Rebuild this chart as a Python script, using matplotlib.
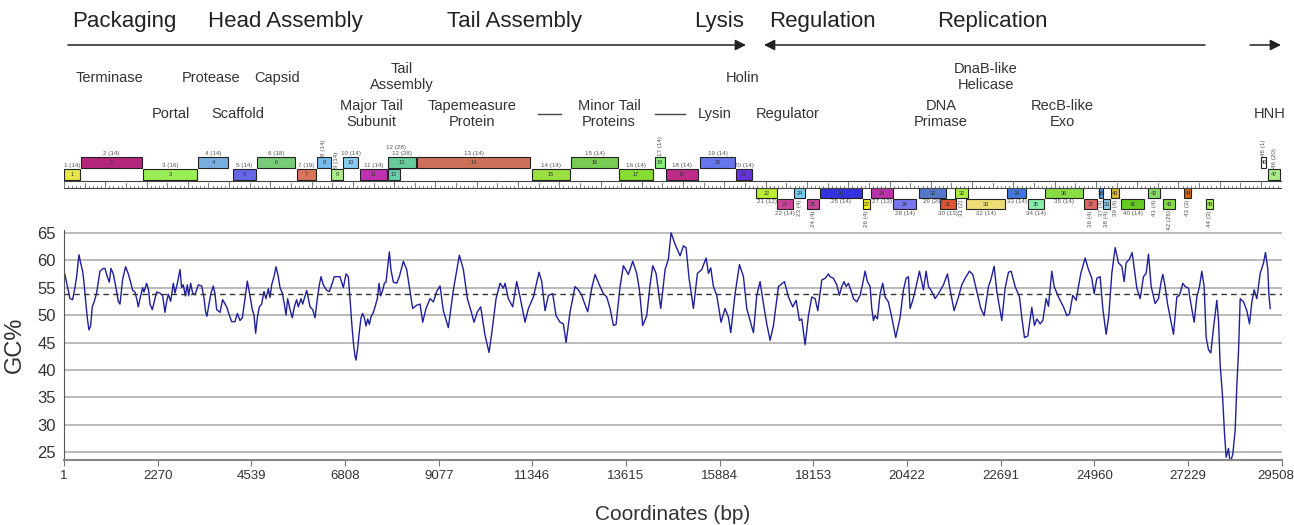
import matplotlib
matplotlib.use('Agg')
import matplotlib.pyplot as plt
import matplotlib.transforms as mtransforms
from matplotlib.patches import Rectangle

plt.rcParams['font.family'] = ['Liberation Sans', 'DejaVu Sans']

# GC% in a sliding window: window centre (bp) and GC%
gc_pos = [20, 145, 210, 266, 307, 363, 404, 452, 484, 533, 573, 606, 646, 686, 735, 791,
          832, 872, 953, 993, 1050, 1098, 1139, 1195, 1260, 1316, 1357, 1421, 1494, 1559,
          1615, 1664, 1720, 1761, 1801, 1857, 1906, 1938, 2003, 2051, 2084, 2140, 2189,
          2245, 2326, 2391, 2447, 2488, 2528, 2584, 2649, 2689, 2754, 2811, 2851, 2891,
          2940, 2988, 3021, 3069, 3118, 3174, 3255, 3336, 3392, 3433, 3465, 3513, 3562,
          3618, 3659, 3699, 3780, 3844, 3941, 4006, 4063, 4143, 4200, 4264, 4321, 4386,
          4442, 4507, 4563, 4604, 4644, 4684, 4733, 4789, 4846, 4894, 4951, 4991, 5032,
          5088, 5137, 5193, 5234, 5290, 5339, 5379, 5419, 5476, 5532, 5581, 5637, 5678,
          5742, 5783, 5880, 5961, 6025, 6082, 6138, 6187, 6227, 6284, 6364, 6429, 6486,
          6550, 6687, 6768, 6833, 6889, 6930, 6970, 7011, 7051, 7075, 7116, 7156, 7196,
          7237, 7277, 7318, 7358, 7399, 7439, 7495, 7536, 7592, 7633, 7673, 7721, 7762,
          7802, 7883, 7923, 7980,
          8061, 8125, 8222, 8303, 8384, 8448, 8545, 8626, 8691, 8771, 8868, 8949, 9030,
          9111, 9191, 9312, 9434, 9579, 9676, 9773, 9878, 9934, 10015, 10096, 10201,
          10298, 10362, 10468, 10564, 10645, 10686, 10766, 10871, 10968, 11049, 11170,
          11251, 11372, 11509, 11574, 11655, 11736, 11840, 11921, 12018, 12099, 12164,
          12261, 12382, 12462, 12543, 12584, 12689, 12786, 12866, 12971, 13068, 13149,
          13230, 13311, 13375, 13472, 13553, 13674, 13779, 13876, 13941, 14021, 14118,
          14199, 14264, 14344, 14458, 14563, 14643, 14708, 14805, 14926, 15007, 15071,
          15144, 15249, 15346, 15451, 15556, 15613, 15669, 15734, 15814, 15919, 16016,
          16097, 16154, 16259, 16364, 16461, 16541, 16622, 16703, 16784, 16864, 16945,
          17026, 17107, 17188, 17309, 17454, 17551, 17656, 17737, 17818, 17874, 17955,
          18036, 18116, 18197, 18262, 18359, 18440, 18520,
          18560, 18641, 18722, 18786, 18843, 18899, 18948, 19004, 19061, 19125, 19206,
          19287, 19343, 19408, 19465, 19529, 19570, 19610, 19650, 19707, 19772, 19836,
          19893, 19973, 20054, 20151, 20256, 20337, 20402, 20458, 20498, 20563, 20644,
          20725, 20822, 20886, 20943, 21023, 21104, 21185, 21306, 21403, 21468, 21565,
          21670, 21750, 21831, 21936, 22017, 22114, 22211, 22292, 22397, 22453, 22534,
          22599, 22720, 22800, 22881, 22946, 23043, 23148, 23204, 23269, 23350, 23447,
          23511, 23568, 23649, 23713, 23794, 23850, 23931, 23988, 24093, 24214, 24295,
          24359, 24440, 24521, 24577, 24634, 24739, 24820, 24900, 24957, 25022, 25102,
          25167, 25248, 25312, 25385, 25466, 25547, 25627, 25684, 25732, 25813, 25878,
          25926, 25991, 26072, 26152, 26217, 26274, 26338, 26435, 26516, 26580, 26621,
          26677, 26734, 26815, 26879, 26960, 27025, 27105, 27162, 27243, 27300, 27380,
          27445, 27509, 27566, 27622, 27671, 27727, 27784, 27849, 27929, 27970, 28010,
          28067, 28115, 28155, 28212, 28252, 28317, 28374, 28414, 28455, 28495, 28576,
          28656, 28721, 28777, 28834, 28899, 28979, 29060, 29108, 29165, 29189, 29222]
gc_val = [57.5, 53, 52.8, 55, 57, 61, 59.5, 58, 56, 52, 49, 47.3, 48, 51.5, 52.5, 54,
          56, 58, 58.5, 58.5, 57, 56, 58.5, 57.5, 55, 52.5, 52, 56.5, 58.8, 57.5,
          56, 54.5, 54.2, 53, 51.5, 53.5, 55, 54.2, 55.8, 54.5, 52, 51, 52.5,
          54.2, 54, 53.5, 50.5, 52.5, 53.8, 52.5, 55.8, 54, 56, 58.3, 55, 55.5,
          53.5, 55.5, 53.5, 55.8, 54, 53.7, 55.5, 55.3, 53.2, 50.5, 49.8, 52, 54,
          55.3, 53.8, 51, 50.5, 52.8, 51.5, 50, 48.8, 48.8, 50.3, 49, 49.5, 53,
          56.2, 53.5, 51, 50, 46.7, 49.5, 51.5, 52, 54.3, 53, 54.8, 53.2, 55.5,
          57, 58.8, 57, 55, 54, 52, 50, 53, 51, 49.5, 51.5, 52.8, 51.5,
          53, 52, 54.5, 51.5, 51, 49.5, 53, 55.5, 57, 55.5, 54.5, 54.3, 55.5,
          57, 57, 55, 57.5, 57, 53, 48.7, 45, 42.5, 41.8, 44, 47, 49.5,
          50.3, 49.5, 48, 49.3, 48.3, 49.7, 50.5, 51.5, 53, 55.8, 53.5, 54.5, 55.8,
          56, 61.5, 58.2, 56,
          55.8, 57, 59.8, 58.3, 54.3, 51.2, 51.8, 52, 48.7, 51.2, 53, 52.4, 54.3,
          55.3, 50.8, 47.7, 54.6, 60.9, 58.3, 53, 50.3, 48.7, 50.6, 51.5, 46.3,
          43.2, 46.6, 53, 55.8, 54.9, 55.8, 53, 51.5, 56.1, 53.3, 48.7,
          51.2, 53.3, 57.8, 56.1, 50.8, 53.6, 53.9, 49.9, 48.7, 48.4, 45,
          50.6, 55.2, 54.6, 53.6, 52.7, 50.6, 54.9, 57.4, 55.5, 53.9, 53.3,
          51.2, 48.1, 48.3, 55.2, 59, 57.4, 59.8, 57.6, 54.6, 48.1, 49.9,
          55.5, 59, 57.6, 51.2, 58.3, 60.2, 65, 62.9, 60.8, 62.6, 62.3,
          56.7, 51.2, 57.6, 58.3, 60.4, 57.6, 58.6, 55.2, 53.6, 48.7, 51.2,
          49.6, 46.8, 53.9, 59.2, 57, 51.2, 49, 46.8, 53.6, 56.1, 52.1,
          48.4, 45.4, 48.1, 55.2, 56.1, 53.3, 51.5, 52.7, 49, 49.3, 44.6,
          49.9, 53.3, 53, 50.8, 56.4, 56.7, 57.5,
          57, 56.7, 55.5, 53.6, 55.2, 56.1, 55.2, 55.8, 54.6, 53, 52.4,
          53.6, 55.5, 58, 56.1, 55.2, 51.2, 49, 49.9, 49.3, 53.9, 55.8,
          53.3, 52.4, 49.6, 45.9, 49.6, 54.6, 56.7, 57, 51.2, 52.7, 55.2,
          58, 54.6, 58, 55.2, 54.3, 53, 53.9, 55.5, 57.5, 54.6, 50.8,
          53.3, 55.5, 56.7, 58, 57.4, 54.3, 51.2, 49.9, 55.2, 56.4, 58.9,
          54.3, 49, 54.9, 57.8, 58, 55.2, 53.3, 49.6, 45.9, 46.2, 51.4,
          48.1, 49.3, 48.4, 49, 53, 51.6, 58, 55.2, 53.3, 51.5, 49.9,
          50.2, 53.6, 52.7, 55.2, 57.6, 60.4, 58.3, 56.7, 53.9, 56.7, 57,
          51.2, 46.5, 49.9, 57.6, 62.3, 59.5, 58.9, 56.1, 59.5, 60.2, 61.4,
          58.6, 54.9, 53, 57, 57.6, 61.1, 55.2, 52.1, 53, 56.1, 57.4,
          55.2, 52.1, 49, 46.5, 53.3, 53.6, 55.8, 55.2, 54.9, 52.1, 48.7,
          53.3, 55.2, 58, 55.2, 45.9, 43.7, 43.1, 47.7, 52.7, 49, 40.9,
          35.3, 28.5, 24.1, 25.7, 23, 24.7, 29.1, 37.2, 43.4, 53, 52.4,
          50.8, 48.4, 52.4, 54.6, 53, 57.6, 59.5, 61.4, 58.3, 53.9, 51.2]
gc_mean = 53.8

genome_len = 29508
x_ticks = [1, 2270, 4539, 6808, 9077, 11346, 13615, 15884, 18153, 20422, 22691, 24960, 27229, 29508]

# genes: start, end (bp), track (F2/F1 forward, R1/R2 reverse), tag, colour
gene_start = [1, 412, 1914, 3247, 4095, 4676, 5646, 6130, 6469, 6760, 7172, 7851, 7851,
              8553, 11340, 12285, 13448, 14320, 14587, 15410, 16283, 16767, 17276, 17688,
              18003, 18318, 19360, 19554, 20087, 20717, 21226, 21589, 21856, 22849, 23358,
              23770, 24715, 25078, 25175, 25369, 25611, 26265, 26629, 27138, 27671, 29003, 29172]
gene_end = [390, 1890, 3222, 3974, 4652, 5597, 6106, 6469, 6760, 7124, 7826, 8141, 8529,
            11291, 12260, 13423, 14271, 14562, 15362, 16258, 16670, 17276, 17664, 17954,
            18294, 19336, 19530, 20087, 20644, 21371, 21613, 21904, 22800, 23309, 23745,
            24690, 25030, 25175, 25345, 25563, 26168, 26556, 26920, 27307, 27841, 29124, 29463]
gene_track = ['F1', 'F2', 'F1', 'F2', 'F1', 'F2', 'F1', 'F2', 'F1', 'F2', 'F1', 'F1', 'F2',
              'F2', 'F1', 'F2', 'F1', 'F2', 'F1', 'F2', 'F1', 'R1', 'R2', 'R1',
              'R2', 'R1', 'R2', 'R1', 'R2', 'R1', 'R2', 'R1', 'R2', 'R1', 'R2',
              'R1', 'R2', 'R1', 'R2', 'R1', 'R2', 'R1', 'R2', 'R1', 'R2', 'F2', 'F1']
gene_tag = ['1 (14)', '2 (14)', '3 (16)', '4 (14)', '5 (14)', '6 (18)', '7 (19)', '8 (14)',
            '9 (14)', '10 (14)', '11 (14)', '12 (28)', '12 (28)', '13 (14)', '14 (14)',
            '15 (14)', '16 (14)', '17 (14)', '18 (14)', '19 (14)', '20 (14)', '21 (12)',
            '22 (14)', '23 (4)', '24 (4)', '25 (14)', '26 (4)', '27 (13)', '28 (14)',
            '29 (29)', '30 (13)', '31 (2)', '32 (14)', '33 (14)', '34 (14)', '35 (14)',
            '36 (4)', '37 (4)', '38 (4)', '39 (4)', '40 (14)', '41 (4)', '42 (26)',
            '43 (3)', '44 (3)', '45 (1)', '46 (20)']
gene_color = ['#e6e64a', '#b5267d', '#99ee55', '#7aaee0', '#6666e8', '#77cc77', '#d9735a',
              '#77bbee', '#aaee88', '#88ccee', '#c030b0', '#66ccaa', '#66cc99', '#cc7058',
              '#99e040', '#77cc55', '#88dd33', '#88ee77', '#c02a88', '#6677ee', '#6633dd',
              '#bbee33', '#cc4499', '#77ccee', '#cc4499', '#3333dd', '#eeee22', '#bb33aa',
              '#7777ee', '#5577cc', '#dd5533', '#aaee44', '#eedd77', '#4477dd', '#88eeaa',
              '#88dd44', '#dd6666', '#4499ee', '#88ccee', '#ddbb33', '#66cc22', '#88dd66',
              '#88dd44', '#cc6611', '#aaee55', '#ffffff', '#aaee88']
vertical_tags = {8, 9, 18, 24, 25, 27, 32, 37, 38, 39, 40, 42, 43, 44, 45, 46, 47}

fig = plt.figure(figsize=(12.94, 5.25), dpi=100)
W, H = 1294, 525
x0, x1 = 64, 1282

# ---- GC% plot ----
ax = fig.add_axes([x0 / W, 65 / H, (x1 - x0) / W, 230 / H])
ax.plot(gc_pos, gc_val, color='#1f1f9a', lw=1.0)
ax.axhline(gc_mean, color='#333333', lw=1.0, ls=(0, (4, 3)))
ax.set_xlim(1, genome_len)
ax.set_ylim(23.6, 65.5)
ax.set_yticks(range(25, 66, 5))
ax.yaxis.grid(True, color='#b5b5b5', lw=1.3)
ax.set_axisbelow(True)
ax.set_xticks(x_ticks)
ax.set_xticklabels([str(t) for t in x_ticks], fontsize=9.5, color='#333333')
ax.tick_params(axis='x', length=4, color='#777777', pad=3)
ax.tick_params(axis='y', length=0, labelsize=12, labelcolor='#333333', pad=6)
last = ax.get_xticklabels()[-1]
last.set_transform(last.get_transform() +
                   mtransforms.ScaledTranslation(-6 / 100, 0, fig.dpi_scale_trans))
for s in ['top', 'right']:
    ax.spines[s].set_visible(False)
ax.spines['left'].set_color('#555555')
ax.spines['bottom'].set_color('#888888')
ax.spines['bottom'].set_linewidth(1.5)
ax.set_ylabel('GC%', fontsize=17, color='#333333', labelpad=8)
ax.set_xlabel('Coordinates (bp)', fontsize=15, color='#333333', labelpad=17)

# ---- genome map (y in pixel rows from the top) ----
top = fig.add_axes([x0 / W, 300 / H, (x1 - x0) / W, 225 / H])
top.set_xlim(1, genome_len)
top.set_ylim(225, 0)
top.axis('off')

def bp(px):
    return (px - x0) * genome_len / (x1 - x0)

# section headers and arrows
for name, px in [('Packaging', 124), ('Head Assembly', 285), ('Tail Assembly', 515),
                 ('Lysis', 719), ('Regulation', 822), ('Replication', 992)]:
    top.text(bp(px), 21, name, fontsize=16, ha='center', va='center', color='#222222')
arrow = dict(arrowstyle='-|>', color='#222222', lw=1.1, mutation_scale=16, shrinkA=0, shrinkB=0)
top.annotate('', xy=(bp(746), 45), xytext=(bp(68), 45), arrowprops=arrow)
top.annotate('', xy=(bp(764), 45), xytext=(bp(1205), 45), arrowprops=arrow)
top.annotate('', xy=(bp(1281), 45), xytext=(bp(1250), 45), arrowprops=arrow)

# functional annotations
for name, px, py in [('Terminase', 110, 78), ('Protease', 211, 78), ('Capsid', 277, 78),
                     ('Portal', 171, 114), ('Scaffold', 238, 114), ('Tail\nAssembly', 402, 77),
                     ('Major Tail\nSubunit', 371, 114), ('Tapemeasure\nProtein', 472, 114),
                     ('Minor Tail\nProteins', 609, 114), ('Lysin', 715, 114), ('Holin', 743, 78),
                     ('Regulator', 788, 114), ('DnaB-like\nHelicase', 986, 77),
                     ('DNA\nPrimase', 941, 114), ('RecB-like\nExo', 1062, 114), ('HNH', 1270, 114)]:
    top.text(bp(px), py, name, fontsize=10.5, ha='center', va='center', color='#333333',
             linespacing=1.2)
top.plot([bp(538), bp(561)], [114, 114], color='#444444', lw=1)
top.plot([bp(655), bp(685)], [114, 114], color='#444444', lw=1)

# ruler
top.plot([1, genome_len], [181, 181], color='#444444', lw=0.8)
top.plot([1, genome_len], [188, 188], color='#444444', lw=0.8)
for t in range(0, genome_len + 1, 100):
    if t % 1000 == 0:
        y_up = 181
    elif t % 500 == 0:
        y_up = 183
    else:
        y_up = 185.5
    top.plot([max(t, 1), max(t, 1)], [y_up, 188], color='#444444', lw=0.5)

tracks = {'F2': (157, 168), 'F1': (169, 180), 'R1': (188, 198), 'R2': (199, 209)}
for i in range(len(gene_start)):
    n = i + 1
    s, e = gene_start[i], gene_end[i]
    y_top, y_bot = tracks[gene_track[i]]
    top.add_patch(Rectangle((s, y_top), e - s, y_bot - y_top, facecolor=gene_color[i],
                            edgecolor='#222222', lw=0.8))
    xm = (s + e) / 2
    top.text(xm, (y_top + y_bot) / 2 + 0.5, str(n), fontsize=4, ha='center', va='center',
             color='#333333')
    forward = gene_track[i].startswith('F')
    rot = 90 if n in vertical_tags else 0
    if n == 12:
        top.text(xm + 60, 147, gene_tag[i], fontsize=4.5, ha='center', va='center', color='#555555')
        continue
    if forward:
        top.text(xm, y_top - 1.5, gene_tag[i], fontsize=4.5, ha='center', va='bottom',
                 rotation=rot, color='#555555')
    else:
        top.text(xm, y_bot + 1.5, gene_tag[i], fontsize=4.5, ha='center', va='top',
                 rotation=rot, color='#555555')

fig.savefig('out.png', dpi=100)
